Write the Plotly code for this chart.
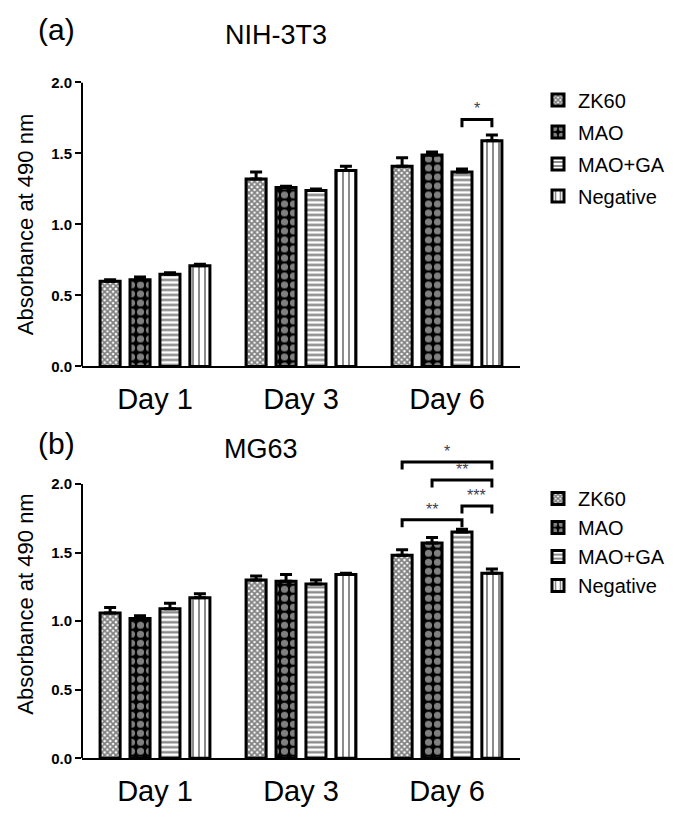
import plotly.graph_objects as go

# ---------------- data ----------------
days = ["Day 1", "Day 3", "Day 6"]
groups = ["ZK60", "MAO", "MAO+GA", "Negative"]

# Panel (a) NIH-3T3
a_zk60 = [0.60, 1.32, 1.41]
a_mao = [0.61, 1.26, 1.49]
a_maoga = [0.65, 1.24, 1.37]
a_neg = [0.71, 1.38, 1.59]
a_zk60_err = [0.01, 0.05, 0.06]
a_mao_err = [0.02, 0.01, 0.02]
a_maoga_err = [0.01, 0.01, 0.02]
a_neg_err = [0.01, 0.03, 0.04]

# Panel (b) MG63
b_zk60 = [1.06, 1.30, 1.48]
b_mao = [1.02, 1.29, 1.57]
b_maoga = [1.09, 1.27, 1.65]
b_neg = [1.17, 1.34, 1.35]
b_zk60_err = [0.04, 0.03, 0.04]
b_mao_err = [0.02, 0.05, 0.04]
b_maoga_err = [0.04, 0.03, 0.02]
b_neg_err = [0.03, 0.01, 0.03]

# significance brackets: (day index, bar i, bar j, height, label)
a_sig = [(2, 2, 3, 1.74, "*")]
b_sig = [(2, 0, 2, 1.74, "**"), (2, 2, 3, 1.84, "***"),
         (2, 1, 3, 2.03, "**"), (2, 0, 3, 2.16, "*")]

yticks = [0.0, 0.5, 1.0, 1.5, 2.0]
YMAX_A = 2.0
YMAX_B = 2.25

# ---------------- styling ----------------
FONT = "Arial, Liberation Sans, sans-serif"
W, H = 700, 826
BARGAP = 0.18
SLOT = (1 - BARGAP) / 4

patterns = [
    dict(shape="x", fgcolor="black", bgcolor="white", size=4, solidity=0.7),
    dict(shape=".", fgcolor="white", bgcolor="black", size=9, solidity=0.5),
    dict(shape="-", fgcolor="black", bgcolor="white", size=5, solidity=0.45),
    dict(shape="|", fgcolor="black", bgcolor="white", size=6, solidity=0.3),
]
base_colors = ["white", "black", "white", "white"]

fig = go.Figure()


def add_panel(vals, errs, xref, yref, legend):
    for k, (name, v, e) in enumerate(zip(groups, vals, errs)):
        fig.add_trace(go.Bar(
            x=list(range(len(days))), y=v, name=name,
            xaxis=xref, yaxis=yref, legend=legend, legendgroup=legend + name,
            marker=dict(color=base_colors[k], pattern=patterns[k],
                        line=dict(color="black", width=3)),
            error_y=dict(type="data", array=e, arrayminus=[0] * len(e),
                         symmetric=False, color="black", thickness=3, width=6),
        ))


def add_sig(sig, xref, yref):
    for (d, i, j, h, lab) in sig:
        x1 = d + (i - 1.5) * SLOT
        x2 = d + (j - 1.5) * SLOT
        drop = 0.055
        fig.add_trace(go.Scatter(
            x=[x1, x1, x2, x2], y=[h - drop, h, h, h - drop], mode="lines",
            line=dict(color="black", width=3), cliponaxis=False,
            showlegend=False, hoverinfo="skip", xaxis=xref, yaxis=yref))
        fig.add_annotation(x=(x1 + x2) / 2, y=h, xref=xref, yref=yref,
                           text=lab, showarrow=False, yanchor="bottom", yshift=0,
                           font=dict(family=FONT, size=16, color="#3c4050"))


add_panel([a_zk60, a_mao, a_maoga, a_neg],
          [a_zk60_err, a_mao_err, a_maoga_err, a_neg_err], "x", "y", "legend")
add_panel([b_zk60, b_mao, b_maoga, b_neg],
          [b_zk60_err, b_mao_err, b_maoga_err, b_neg_err], "x2", "y2", "legend2")
add_sig(a_sig, "x", "y")
add_sig(b_sig, "x2", "y2")

# pixel layout
A_TOP, A_BOT = 75, 365          # y=2.0 and y=0 for panel (a)
B_TOP2, B_BOT = 485, 765        # y=2.0 and y=0 for panel (b)
b_scale = (B_BOT - B_TOP2) / 2.0
B_TOP = B_BOT - b_scale * YMAX_B

xdom = [82 / W, 520 / W]
ya_dom = [1 - A_BOT / H, 1 - A_TOP / H]
yb_dom = [1 - B_BOT / H, 1 - B_TOP / H]

xcommon = dict(domain=xdom, range=[-0.5, 2.5], tickvals=list(range(len(days))),
               ticktext=days, showline=True, linecolor="black", linewidth=2,
               ticks="", showgrid=False, zeroline=False, ticklabelstandoff=6,
               tickfont=dict(family=FONT, size=29, color="black"))
ycommon = dict(tickvals=yticks, tickformat=".1f",
               showline=False, ticks="outside", ticklen=6, tickwidth=2,
               tickcolor="black", showgrid=False, zeroline=False,
               tickfont=dict(family=FONT, size=15, color="black", weight="bold"),
               title=dict(text="Absorbance at 490 nm", standoff=11,
                          font=dict(family=FONT, size=22, color="black")))

legcommon = dict(x=538 / W, xanchor="left", yanchor="top",
                 font=dict(family=FONT, size=20, color="black"),
                 traceorder="grouped", bgcolor="rgba(0,0,0,0)")

fig.update_layout(
    width=W, height=H, margin=dict(l=0, r=0, t=0, b=0),
    paper_bgcolor="white", plot_bgcolor="white",
    barmode="group", bargap=BARGAP, bargroupgap=0.33,
    font=dict(family=FONT, color="black"),
    xaxis=dict(anchor="y", **xcommon),
    xaxis2=dict(anchor="y2", **xcommon),
    yaxis=dict(anchor="x", domain=ya_dom, range=[0, YMAX_A], **ycommon),
    yaxis2=dict(anchor="x2", domain=yb_dom, range=[0, YMAX_B], **ycommon),
    legend=dict(y=1 - 73 / H, tracegroupgap=3, **legcommon),
    legend2=dict(y=1 - 480 / H, tracegroupgap=0, **legcommon),
)

# y axis lines from 0 to 2.0 only
for xr, yr in (("x domain", "y"), ("x2 domain", "y2")):
    fig.add_shape(type="line", xref=xr, yref=yr, x0=0, x1=0, y0=0, y1=2.0,
                  line=dict(color="black", width=2))

# panel labels and titles
titles = [("(a)", 56, 21, 30), ("NIH-3T3", 276, 27, 27),
          ("(b)", 56, 444, 30), ("MG63", 261, 449, 27)]
for txt, px, py, fs in titles:
    fig.add_annotation(x=px / W, y=1 - py / H, xref="paper", yref="paper",
                       text=txt, showarrow=False, xanchor="center", yanchor="middle",
                       font=dict(family=FONT, size=fs, color="black"))

fig.write_html("out.html", config={"displayModeBar": False},
               post_script="document.body.style.margin='0';document.body.style.overflow='hidden';")
